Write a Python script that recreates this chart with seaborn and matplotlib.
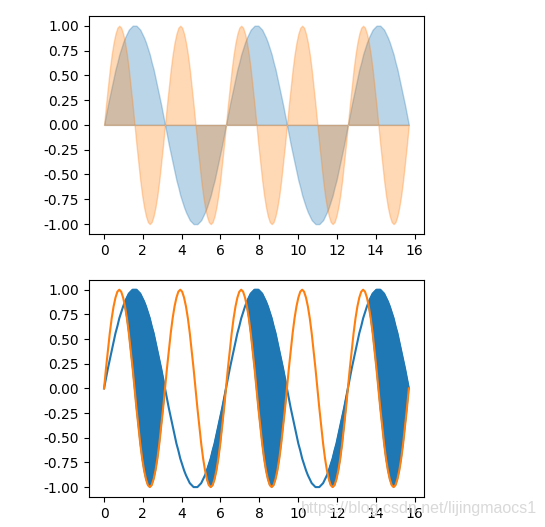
import matplotlib
matplotlib.use("Agg")
import matplotlib.pyplot as plt
import numpy as np
import seaborn as sns

x = [
    0.000, 0.098, 0.196, 0.295, 0.393, 0.491, 0.589, 0.687, 0.785, 0.884, 0.982, 1.080, 1.178, 1.276, 1.374, 1.473,
    1.571, 1.669, 1.767, 1.865, 1.963, 2.062, 2.160, 2.258, 2.356, 2.454, 2.553, 2.651, 2.749, 2.847, 2.945, 3.043,
    3.142, 3.240, 3.338, 3.436, 3.534, 3.632, 3.731, 3.829, 3.927, 4.025, 4.123, 4.222, 4.320, 4.418, 4.516, 4.614,
    4.712, 4.811, 4.909, 5.007, 5.105, 5.203, 5.301, 5.400, 5.498, 5.596, 5.694, 5.792, 5.890, 5.989, 6.087, 6.185,
    6.283, 6.381, 6.480, 6.578, 6.676, 6.774, 6.872, 6.970, 7.069, 7.167, 7.265, 7.363, 7.461, 7.559, 7.658, 7.756,
    7.854, 7.952, 8.050, 8.149, 8.247, 8.345, 8.443, 8.541, 8.639, 8.738, 8.836, 8.934, 9.032, 9.130, 9.228, 9.327,
    9.425, 9.523, 9.621, 9.719, 9.817, 9.916, 10.014, 10.112, 10.210, 10.308, 10.407, 10.505, 10.603, 10.701, 10.799, 10.897,
    10.996, 11.094, 11.192, 11.290, 11.388, 11.486, 11.585, 11.683, 11.781, 11.879, 11.977, 12.075, 12.174, 12.272, 12.370, 12.468,
    12.566, 12.665, 12.763, 12.861, 12.959, 13.057, 13.155, 13.254, 13.352, 13.450, 13.548, 13.646, 13.744, 13.843, 13.941, 14.039,
    14.137, 14.235, 14.334, 14.432, 14.530, 14.628, 14.726, 14.824, 14.923, 15.021, 15.119, 15.217, 15.315, 15.413, 15.512, 15.610,
    15.708,
]

y1 = [
    0.00, 0.10, 0.20, 0.29, 0.38, 0.47, 0.56, 0.63, 0.71, 0.77, 0.83, 0.88, 0.92, 0.96, 0.98, 1.00,
    1.00, 1.00, 0.98, 0.96, 0.92, 0.88, 0.83, 0.77, 0.71, 0.63, 0.56, 0.47, 0.38, 0.29, 0.20, 0.10,
    0.00, -0.10, -0.20, -0.29, -0.38, -0.47, -0.56, -0.63, -0.71, -0.77, -0.83, -0.88, -0.92, -0.96, -0.98, -1.00,
    -1.00, -1.00, -0.98, -0.96, -0.92, -0.88, -0.83, -0.77, -0.71, -0.63, -0.56, -0.47, -0.38, -0.29, -0.20, -0.10,
    0.00, 0.10, 0.20, 0.29, 0.38, 0.47, 0.56, 0.63, 0.71, 0.77, 0.83, 0.88, 0.92, 0.96, 0.98, 1.00,
    1.00, 1.00, 0.98, 0.96, 0.92, 0.88, 0.83, 0.77, 0.71, 0.63, 0.56, 0.47, 0.38, 0.29, 0.20, 0.10,
    0.00, -0.10, -0.20, -0.29, -0.38, -0.47, -0.56, -0.63, -0.71, -0.77, -0.83, -0.88, -0.92, -0.96, -0.98, -1.00,
    -1.00, -1.00, -0.98, -0.96, -0.92, -0.88, -0.83, -0.77, -0.71, -0.63, -0.56, -0.47, -0.38, -0.29, -0.20, -0.10,
    0.00, 0.10, 0.20, 0.29, 0.38, 0.47, 0.56, 0.63, 0.71, 0.77, 0.83, 0.88, 0.92, 0.96, 0.98, 1.00,
    1.00, 1.00, 0.98, 0.96, 0.92, 0.88, 0.83, 0.77, 0.71, 0.63, 0.56, 0.47, 0.38, 0.29, 0.20, 0.10,
    0.00,
]

y2 = [
    0.00, 0.20, 0.38, 0.56, 0.71, 0.83, 0.92, 0.98, 1.00, 0.98, 0.92, 0.83, 0.71, 0.56, 0.38, 0.20,
    0.00, -0.20, -0.38, -0.56, -0.71, -0.83, -0.92, -0.98, -1.00, -0.98, -0.92, -0.83, -0.71, -0.56, -0.38, -0.20,
    0.00, 0.20, 0.38, 0.56, 0.71, 0.83, 0.92, 0.98, 1.00, 0.98, 0.92, 0.83, 0.71, 0.56, 0.38, 0.20,
    0.00, -0.20, -0.38, -0.56, -0.71, -0.83, -0.92, -0.98, -1.00, -0.98, -0.92, -0.83, -0.71, -0.56, -0.38, -0.20,
    0.00, 0.20, 0.38, 0.56, 0.71, 0.83, 0.92, 0.98, 1.00, 0.98, 0.92, 0.83, 0.71, 0.56, 0.38, 0.20,
    0.00, -0.20, -0.38, -0.56, -0.71, -0.83, -0.92, -0.98, -1.00, -0.98, -0.92, -0.83, -0.71, -0.56, -0.38, -0.20,
    0.00, 0.20, 0.38, 0.56, 0.71, 0.83, 0.92, 0.98, 1.00, 0.98, 0.92, 0.83, 0.71, 0.56, 0.38, 0.20,
    0.00, -0.20, -0.38, -0.56, -0.71, -0.83, -0.92, -0.98, -1.00, -0.98, -0.92, -0.83, -0.71, -0.56, -0.38, -0.20,
    0.00, 0.20, 0.38, 0.56, 0.71, 0.83, 0.92, 0.98, 1.00, 0.98, 0.92, 0.83, 0.71, 0.56, 0.38, 0.20,
    0.00, -0.20, -0.38, -0.56, -0.71, -0.83, -0.92, -0.98, -1.00, -0.98, -0.92, -0.83, -0.71, -0.56, -0.38, -0.20,
    0.00,
]

y_ticks = [-1.00, -0.75, -0.50, -0.25, 0.00, 0.25, 0.50, 0.75, 1.00]
x_ticks = [0, 2, 4, 6, 8, 10, 12, 14, 16]

xa = np.array(x)
a1 = np.array(y1)
a2 = np.array(y2)

blue, orange = sns.color_palette("tab10")[:2]

fig = plt.figure(figsize=(5.45, 5.27), dpi=100)
ax_top = fig.add_axes([0.163, 0.556, 0.615, 0.414])
ax_bot = fig.add_axes([0.163, 0.057, 0.615, 0.412])

# ── Top: each wave filled against zero ────────────────────────────────────────
ax_top.fill_between(xa, 0, a1, color=blue, alpha=0.3)
ax_top.fill_between(xa, 0, a2, color=orange, alpha=0.3)

# ── Bottom: lines, filled where sin(x) >= sin(2x) ─────────────────────────────
ax_bot.fill_between(xa, a1, a2, where=a1 >= a2, facecolor=blue, edgecolor=blue)
sns.lineplot(x=x, y=y1, color=blue, ax=ax_bot, linewidth=1.5)
sns.lineplot(x=x, y=y2, color=orange, ax=ax_bot, linewidth=1.5)

for ax in (ax_top, ax_bot):
    ax.set_xlim(-0.785, 16.49)
    ax.set_ylim(-1.1, 1.1)
    ax.set_xticks(x_ticks)
    ax.set_yticks(y_ticks)
    ax.set_yticklabels([f"{t:.2f}" for t in y_ticks])
    ax.set_xlabel("")
    ax.set_ylabel("")

# watermark from the source image
fig.text(0.986, 0.02, "https://blog.csdn.net/lijingmaocs1", ha="right",
         va="bottom", color="#d9d9d9", fontsize=11.5, family="Liberation Sans")

plt.savefig("out.png", dpi=100)
plt.close()
